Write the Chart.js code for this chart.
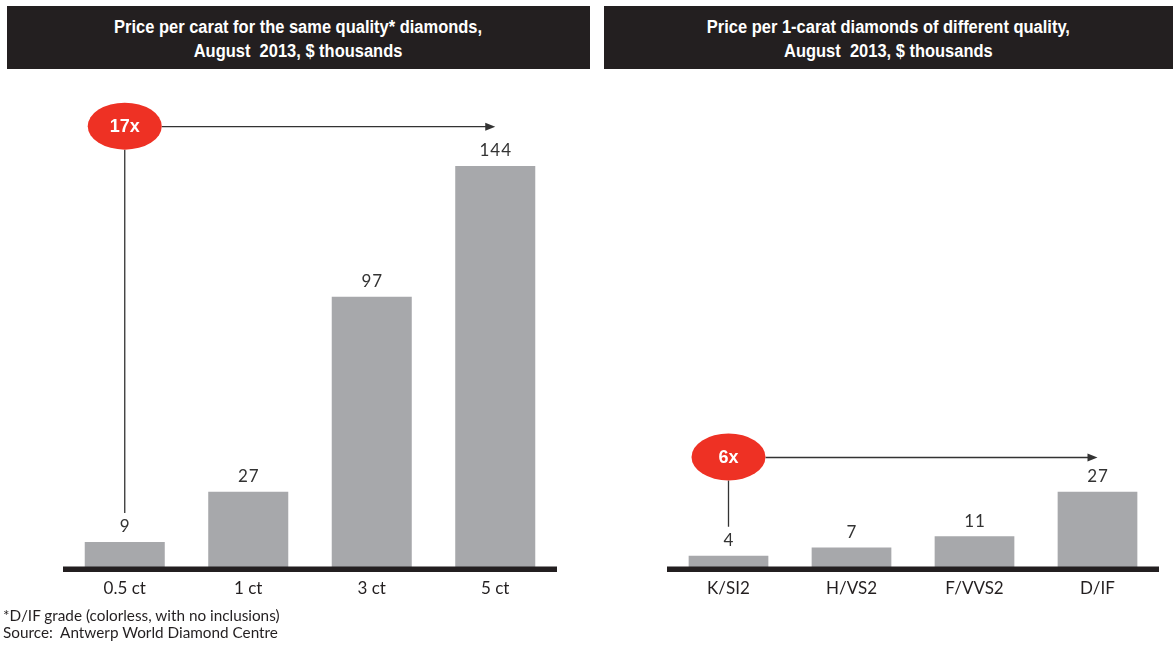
<!DOCTYPE html>
<html>
<head>
<meta charset="utf-8">
<script src="https://cdn.jsdelivr.net/npm/chart.js@4.4.1/dist/chart.umd.min.js"></script>
<style>
  html, body { margin: 0; padding: 0; background: #fff; }
  body { width: 1173px; height: 646px; position: relative; overflow: hidden; }
  .head {
    position: absolute; top: 6px; height: 63px; background: #231f20; color: #fff;
    display: flex; align-items: center; justify-content: center;
  }
  .head span {
    display: block; text-align: center; white-space: nowrap;
    font-family: "Liberation Sans", Arial, sans-serif; font-weight: bold;
    font-size: 18px; line-height: 24px; transform: scaleX(0.915); margin-top: 2px;
  }
  .panel { position: absolute; top: 0; width: 597px; height: 646px; }
  .note {
    position: absolute; left: 3px; top: 607px; font-family: Lato, sans-serif;
    font-size: 15.3px; line-height: 17px; color: #231f20; z-index: 2;
  }
</style>
</head>
<body>
<div class="head" style="left:7px;width:583px;"><span>Price per carat for the same quality* diamonds,<br>August&nbsp; 2013, $ thousands</span></div>
<div class="head" style="left:604px;width:569px;"><span>Price per 1-carat diamonds of different quality,<br>August&nbsp; 2013, $ thousands</span></div>
<div class="panel" style="left:0;"><canvas id="caratChart"></canvas></div>
<div class="panel" style="left:597px;width:576px;"><canvas id="gradeChart"></canvas></div>
<div class="note">*D/IF grade (colorless, with no inclusions)<br>Source:&nbsp; Antwerp World Diamond Centre</div>

<script>
// $ thousands per carat, August 2013
const caratLabels = ['0.5 ct', '1 ct', '3 ct', '5 ct'];
const caratPrices = [9, 27, 97, 144];
const gradeLabels = ['K/SI2', 'H/VS2', 'F/VVS2', 'D/IF'];
const gradePrices = [4, 7, 11, 27];
const yMax = 160;

const barGrey = '#a7a8ab';
const ink = '#231f20';
const red = '#ee3124';

// value above each bar + thick baseline
const barDecor = {
  id: 'barDecor',
  afterDatasetsDraw(chart) {
    const ctx = chart.ctx;
    const area = chart.chartArea;
    ctx.save();
    ctx.fillStyle = ink;
    ctx.fillRect(area.left, area.bottom - 0.5, area.right - area.left, 5.5);
    ctx.font = '17px Lato, sans-serif';
    ctx.letterSpacing = '1px';
    ctx.fillStyle = '#333';
    ctx.textAlign = 'center';
    ctx.textBaseline = 'middle';
    const meta = chart.getDatasetMeta(0);
    meta.data.forEach((bar, i) => {
      ctx.fillText(String(chart.data.datasets[0].data[i]), bar.x + 0.5, bar.y - 15);
    });
    ctx.restore();
  }
};

// red multiple bubble with stem to first bar and arrow to last bar
const multiple = {
  id: 'multiple',
  afterDraw(chart, args, opts) {
    if (!opts.text) return;
    const ctx = chart.ctx;
    const meta = chart.getDatasetMeta(0);
    const first = meta.data[0];
    const last = meta.data[meta.data.length - 1];
    const cx = first.x;
    const cy = chart.scales.y.getPixelForValue(opts.level);
    const rx = 37, ry = 23.5;
    ctx.save();
    ctx.strokeStyle = '#333';
    ctx.fillStyle = '#333';
    ctx.lineWidth = 1.3;
    ctx.beginPath();
    ctx.moveTo(cx, cy + ry);
    ctx.lineTo(cx, first.y - 29);
    ctx.moveTo(cx + rx, cy + 0.5);
    ctx.lineTo(last.x - 8, cy + 0.5);
    ctx.stroke();
    ctx.beginPath();
    ctx.moveTo(last.x, cy + 0.5);
    ctx.lineTo(last.x - 10, cy - 3.5);
    ctx.lineTo(last.x - 10, cy + 4.5);
    ctx.closePath();
    ctx.fill();
    ctx.fillStyle = red;
    ctx.beginPath();
    ctx.ellipse(cx, cy, rx, ry, 0, 0, Math.PI * 2);
    ctx.fill();
    ctx.fillStyle = '#fff';
    ctx.font = 'bold 18px "Liberation Sans", Arial, sans-serif';
    ctx.textAlign = 'center';
    ctx.textBaseline = 'middle';
    ctx.fillText(opts.text, cx, cy + 1);
    ctx.restore();
  }
};

const makeChart = (canvasId, labels, values, padLeft, padRight, badge) => {
  const chartConfig = {
    type: 'bar',
    data: {
      labels: labels,
      datasets: [
        {
          data: values,
          backgroundColor: barGrey,
          barPercentage: 0.648,
          categoryPercentage: 1,
        },
      ],
    },
    options: {
      responsive: false,
      animation: false,
      layout: { padding: { left: padLeft, right: padRight, top: 567 - yMax * 2.785, bottom: 39 } },
      plugins: { legend: { display: false }, tooltip: { enabled: false }, multiple: badge },
      scales: {
        x: {
          grid: { display: false },
          border: { display: false },
          ticks: { color: ink, font: { family: 'Lato', size: 17 }, padding: 3 },
          afterFit: (scale) => { scale.height = 40; },
        },
        y: { display: false, min: 0, max: yMax },
      },
    },
    plugins: [barDecor, multiple],
  };
  const canvas = document.getElementById(canvasId);
  canvas.width = canvas.parentNode.clientWidth;
  canvas.height = 646;
  return new Chart(canvas, chartConfig);
};

makeChart('caratChart', caratLabels, caratPrices, 63, 40, { text: '17x', level: 158.3 });
makeChart('gradeChart', gradeLabels, gradePrices, 70, 14, { text: '6x', level: 39.5 });
</script>
</body>
</html>
